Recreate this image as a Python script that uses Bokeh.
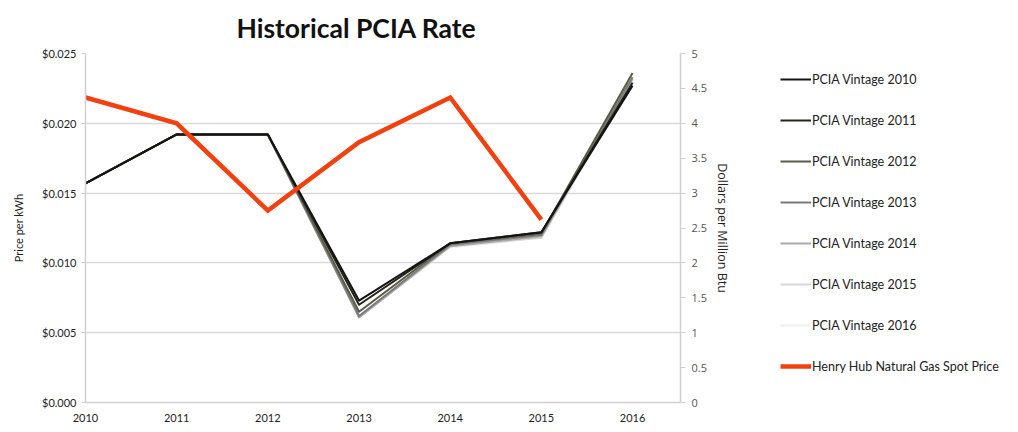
from bokeh.plotting import figure
from bokeh.layouts import row
from bokeh.models import (Range1d, LinearAxis, FixedTicker, NumeralTickFormatter,
                          CustomJSTickFormatter, Legend, LegendItem, Title, ColumnDataSource)
from bokeh.embed import file_html
from bokeh.resources import INLINE

years = [2010, 2011, 2012, 2013, 2014, 2015, 2016]
vintage_names = ["PCIA Vintage 2010", "PCIA Vintage 2011", "PCIA Vintage 2012",
                 "PCIA Vintage 2013", "PCIA Vintage 2014", "PCIA Vintage 2015",
                 "PCIA Vintage 2016"]
v2010 = [0.0157, 0.0192, 0.0192, 0.0073, 0.0114, 0.0122, 0.0227]
v2011 = [0.0157, 0.0192, 0.0192, 0.0070, 0.0114, 0.0122, 0.0229]
v2012 = [0.0157, 0.0192, 0.0192, 0.0065, 0.0114, 0.0121, 0.0236]
v2013 = [0.0157, 0.0192, 0.0192, 0.0062, 0.0113, 0.0120, 0.0233]
v2014 = [0.0157, 0.0192, 0.0192, 0.0061, 0.0112, 0.0119, 0.0232]
v2015 = [0.0157, 0.0192, 0.0192, 0.0061, 0.0112, 0.0118, 0.0231]
v2016 = [0.0157, 0.0192, 0.0192, 0.0061, 0.0111, 0.0118, 0.0230]
gas_years = [2010, 2011, 2012, 2013, 2014, 2015]
gas_price = [4.37, 4.00, 2.75, 3.73, 4.37, 2.62]
gas_name = "Henry Hub Natural Gas Spot Price"
left_ticks = [0.0, 0.005, 0.010, 0.015, 0.020, 0.025]
right_ticks = [0, 0.5, 1, 1.5, 2, 2.5, 3, 3.5, 4, 4.5, 5]

vintages = [v2010, v2011, v2012, v2013, v2014, v2015, v2016]
vcolors = ["#141414", "#23231c", "#5c5a44", "#7a7a7a", "#a9a9a9", "#d6d6d6", "#efefef"]
red = "#F2400F"
FONT = "Lato"

p = figure(width=740, height=424, output_backend="svg", toolbar_location=None,
           x_range=Range1d(2010, 2016.526), y_range=Range1d(0, 0.025),
           min_border_left=85, min_border_right=60, min_border_top=53,
           min_border_bottom=20)
p.extra_y_ranges = {"gas": Range1d(0, 5)}
p.outline_line_color = None
p.background_fill_color = "white"
p.border_fill_color = "white"

p.title = Title(text="Historical PCIA Rate", align="left", offset=151, standoff=19,
                text_font=FONT, text_font_style="bold", text_font_size="26.5px",
                text_color="#111111")

# axes
p.xaxis.ticker = FixedTicker(ticks=years)
p.xaxis.major_tick_line_color = None
p.xaxis.minor_tick_line_color = None
p.xaxis.axis_line_color = "#d0d0d0"
p.xaxis.axis_line_width = 1.5
p.xaxis.major_label_standoff = 5
p.xaxis.major_label_text_font = FONT
p.xaxis.major_label_text_font_size = "11px"
p.xaxis.major_label_text_color = "#222222"

p.yaxis.ticker = FixedTicker(ticks=left_ticks)
p.yaxis.formatter = NumeralTickFormatter(format="$0.000")
p.yaxis.axis_line_color = "#d0d0d0"
p.yaxis.axis_line_width = 1.5
p.yaxis.major_tick_line_color = "#d0d0d0"
p.yaxis.major_tick_out = 4
p.yaxis.major_tick_in = 0
p.yaxis.minor_tick_line_color = None
p.yaxis.major_label_text_font = FONT
p.yaxis.major_label_text_font_size = "11px"
p.yaxis.major_label_text_color = "#222222"
p.yaxis.axis_label = "Price per kWh"
p.yaxis.axis_label_text_font = FONT
p.yaxis.axis_label_text_font_style = "normal"
p.yaxis.axis_label_text_font_size = "11px"
p.yaxis.axis_label_text_color = "#222222"
p.yaxis.axis_label_standoff = 14

raxis = LinearAxis(y_range_name="gas", ticker=FixedTicker(ticks=right_ticks),
                   formatter=CustomJSTickFormatter(code="return tick.toString();"))
raxis.axis_line_color = "#d0d0d0"
raxis.axis_line_width = 1.5
raxis.major_tick_line_color = "#d0d0d0"
raxis.major_tick_out = 5
raxis.major_tick_in = 0
raxis.minor_tick_line_color = None
raxis.major_label_text_font = "Open Sans"
raxis.major_label_text_font_size = "11px"
raxis.major_label_text_color = "#555555"
raxis.major_label_standoff = 6
raxis.axis_label = "Dollars per Million Btu"
raxis.axis_label_text_font = "Open Sans"
raxis.axis_label_text_font_style = "normal"
raxis.axis_label_text_font_size = "12.5px"
raxis.axis_label_text_color = "#222222"
raxis.axis_label_standoff = 4
p.add_layout(raxis, "right")

p.xgrid.grid_line_color = None
p.ygrid.grid_line_color = "#d9d9d9"
p.ygrid.grid_line_width = 1.5

for name, vals, col in reversed(list(zip(vintage_names, vintages, vcolors))):
    src = ColumnDataSource(dict(x=years, y=vals))
    p.line("x", "y", source=src, line_color=col, line_width=2, line_join="round")

gsrc = ColumnDataSource(dict(x=gas_years, y=gas_price))
p.line("x", "y", source=gsrc, y_range_name="gas", line_color=red, line_width=4.5,
       line_join="miter")

# legend panel: a second figure whose ranges keep its series out of view,
# so only the legend keys are seen
lp = figure(width=270, height=424, output_backend="svg", toolbar_location=None,
            x_range=Range1d(0, 1), y_range=Range1d(0, 1),
            min_border_left=0, min_border_right=0, min_border_top=0, min_border_bottom=0)
lp.axis.visible = False
lp.grid.visible = False
lp.outline_line_color = None
lp.border_fill_color = "white"

items = []
for name, vals, col in zip(vintage_names, vintages, vcolors):
    r = lp.line(x=years, y=vals, line_color=col, line_width=2)
    items.append(LegendItem(label=name, renderers=[r]))
rg = lp.line(x=gas_years, y=gas_price, line_color=red, line_width=4.5)
items.append(LegendItem(label=gas_name, renderers=[rg]))

legend = Legend(items=items, location=(40, 26), padding=0, margin=0,
                border_line_color=None, background_fill_alpha=0,
                glyph_width=31, glyph_height=20, label_height=20, spacing=21,
                label_standoff=1, label_text_font=FONT, label_text_font_size="12.5px",
                label_text_color="#222222")
lp.add_layout(legend, "center")

layout = row(p, lp, spacing=0)
open("out.html", "w").write(file_html(layout, INLINE))
